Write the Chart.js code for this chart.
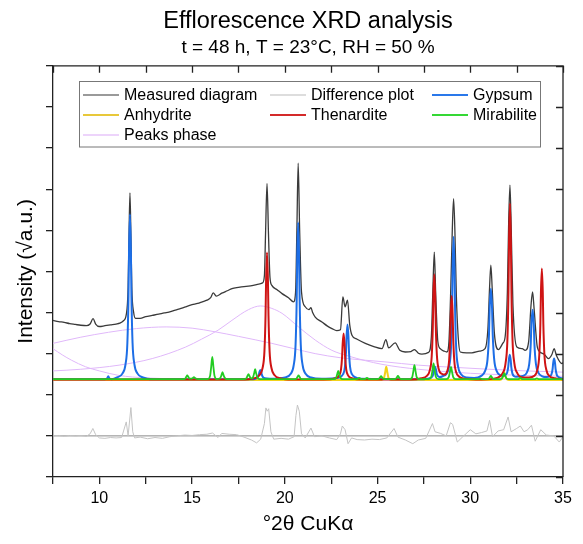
<!DOCTYPE html>
<html>
<head>
<meta charset="utf-8">
<title>Efflorescence XRD analysis</title>
<script src="https://cdn.jsdelivr.net/npm/chart.js@4.4.1/dist/chart.umd.min.js"></script>
<style>
  html, body { margin: 0; padding: 0; background: #fff; overflow: hidden; }
  canvas { display: block; }
</style>
</head>
<body>
<canvas id="xrdChart" width="583" height="544"></canvas>
<script>
// axis ticks (labels only every 5 degrees, y axis has no labels)
const xTickValues = [7.5, 10, 12.5, 15, 17.5, 20, 22.5, 25, 27.5, 30, 32.5, 35];
const xTickLabels = ['', '10', '', '15', '', '20', '', '25', '', '30', '', '35'];
const yTickValues = [-1, 0, 1, 2, 3, 4, 5, 6, 7, 8, 9];

// measured pattern (sqrt intensity, arbitrary offset)
const measured = [
  [7.5,2.81],[7.8,2.78],[8.1,2.76],[8.4,2.73],[8.7,2.71],[9.0,2.69],[9.3,2.68],[9.5,2.72],[9.66,2.85],[9.8,2.72],
  [10.0,2.66],[10.3,2.68],[10.6,2.70],[10.9,2.72],[11.1,2.74],[11.3,2.80],[11.45,2.95],[11.55,3.6],[11.6,4.9],[11.65,5.91],
  [11.7,4.9],[11.75,3.6],[11.85,3.0],[11.95,2.86],[12.2,2.86],[12.5,2.90],[12.85,2.93],[13.2,2.96],[13.5,2.99],[13.75,3.01],
  [14.1,3.06],[14.4,3.10],[14.65,3.14],[15.0,3.19],[15.3,3.22],[15.55,3.26],[15.8,3.30],[16.0,3.36],[16.14,3.48],[16.3,3.40],
  [16.6,3.47],[16.9,3.53],[17.15,3.58],[17.5,3.61],[17.8,3.63],[18.04,3.64],[18.3,3.66],[18.6,3.69],[18.8,3.72],[18.9,3.9],
  [18.96,4.9],[19.04,6.14],[19.12,4.9],[19.2,3.85],[19.3,3.66],[19.6,3.55],[19.85,3.46],[20.2,3.36],[20.47,3.26],[20.58,3.5],
  [20.65,5.0],[20.72,6.63],[20.8,5.0],[20.9,3.5],[21.1,3.14],[21.3,3.07],[21.41,3.12],[21.5,3.0],[21.64,2.89],[22.0,2.77],
  [22.3,2.67],[22.54,2.61],[22.8,2.56],[23.0,2.58],[23.13,3.38],[23.25,3.14],[23.38,3.30],[23.5,2.7],[23.62,2.45],[23.9,2.35],
  [24.34,2.25],[24.8,2.17],[25.24,2.12],[25.45,2.34],[25.6,2.14],[25.95,2.26],[26.2,2.08],[26.49,2.04],[26.8,2.05],[26.99,2.10],
  [27.2,2.01],[27.39,1.99],[27.75,2.03],[27.9,2.4],[27.98,3.5],[28.06,4.47],[28.14,3.4],[28.25,2.3],[28.38,2.12],[28.6,2.06],
  [28.74,2.04],[28.85,2.3],[28.95,3.6],[29.03,5.0],[29.1,5.77],[29.17,5.0],[29.25,3.4],[29.35,2.4],[29.46,2.04],[29.8,2.02],
  [30.09,2.02],[30.5,2.06],[30.8,2.12],[30.95,2.6],[31.04,3.6],[31.11,4.15],[31.18,3.6],[31.3,2.5],[31.52,2.10],[31.75,2.25],
  [31.88,2.41],[32.0,3.5],[32.07,5.2],[32.14,6.10],[32.21,5.0],[32.3,3.2],[32.51,2.16],[32.8,2.12],[32.96,2.08],[33.15,2.3],
  [33.28,3.2],[33.36,3.50],[33.44,3.1],[33.6,2.2],[33.68,2.08],[34.0,1.98],[34.22,1.88],[34.4,1.98],[34.52,2.12],[34.65,1.95],
  [34.94,1.76],[35.0,1.78]
];

// measured minus calculated, around 0
const difference = [
  [7.5,0.0],[7.8,0.01],[8.1,-0.01],[8.4,0.01],[8.7,0.0],[9.0,0.01],[9.3,-0.01],[9.5,0.05],[9.65,0.18],[9.8,0.03],
  [10.0,-0.05],[10.3,-0.06],[10.6,-0.04],[10.9,-0.05],[11.2,-0.04],[11.45,0.34],[11.55,0.0],[11.7,0.69],[11.8,0.1],[11.9,-0.05],
  [12.2,-0.03],[12.6,-0.07],[13.0,-0.04],[13.4,-0.06],[13.8,-0.02],[14.2,0.0],[14.6,0.02],[15.0,0.01],[15.4,0.03],[15.8,0.04],
  [16.1,0.07],[16.4,-0.04],[16.6,0.06],[17.0,0.04],[17.4,0.03],[17.8,-0.03],[18.2,-0.10],[18.48,-0.17],[18.7,-0.08],[18.9,0.3],
  [18.98,0.68],[19.05,0.6],[19.13,0.66],[19.25,0.1],[19.4,-0.08],[19.8,-0.06],[20.2,-0.08],[20.5,-0.02],[20.6,0.5],[20.68,0.75],
  [20.78,0.6],[20.9,0.05],[21.1,-0.05],[21.41,0.19],[21.6,-0.02],[22.0,0.0],[22.4,-0.05],[22.8,-0.09],[23.0,0.05],[23.1,0.24],
  [23.25,0.15],[23.41,-0.19],[23.6,-0.05],[23.9,-0.09],[24.3,-0.10],[24.7,-0.08],[25.1,-0.09],[25.5,-0.05],[25.89,0.18],[26.1,-0.03],
  [26.5,-0.10],[26.9,-0.19],[27.2,-0.10],[27.6,-0.06],[27.96,0.30],[28.1,0.1],[28.4,0.06],[28.7,0.0],[28.93,0.32],[29.05,0.28],
  [29.3,-0.15],[29.6,-0.02],[30.0,0.15],[30.3,0.05],[30.6,0.08],[30.9,0.12],[31.04,0.38],[31.2,-0.02],[31.5,0.12],[31.8,0.15],
  [32.04,0.46],[32.2,0.1],[32.5,0.18],[32.7,0.24],[32.9,0.1],[33.1,0.15],[33.3,0.26],[33.5,-0.13],[33.8,0.15],[34.1,0.02],
  [34.5,0.0],[34.8,-0.15],[35.0,-0.02]
];
const zeroLine = [[7.5,0],[35,0]];

// calculated phase patterns
const gypsum = [
  [7.5,1.38],[10.3,1.38],[10.42,1.40],[10.48,1.45],[10.54,1.40],[10.66,1.38],
  [10.95,1.42],[11.25,1.52],[11.41,1.74],[11.51,2.26],[11.57,3.39],[11.60,4.51],[11.65,5.39],[11.70,4.51],[11.73,3.39],[11.79,2.26],
  [11.89,1.74],[12.05,1.52],[12.35,1.42],[12.9,1.38],
  [18.3,1.38],[18.46,1.40],[18.54,1.43],[18.6,1.49],[18.63,1.55],[18.68,1.60],[18.73,1.55],[18.76,1.49],[18.82,1.43],[18.92,1.40],[19.2,1.39],
  [20.02,1.42],[20.32,1.51],[20.48,1.72],[20.58,2.22],[20.64,3.29],[20.67,4.35],[20.72,5.19],[20.77,4.35],[20.80,3.29],[20.86,2.22],
  [20.96,1.72],[21.12,1.51],[21.42,1.42],[22.0,1.39],
  [22.68,1.40],[22.98,1.43],[23.14,1.50],[23.24,1.67],[23.30,2.05],[23.33,2.42],[23.38,2.71],[23.43,2.42],[23.46,2.05],[23.52,1.67],
  [23.62,1.50],[23.78,1.43],[24.08,1.39],[27.5,1.38],
  [27.70,1.39],[27.86,1.41],[27.96,1.45],[28.02,1.53],[28.05,1.61],[28.10,1.68],[28.15,1.61],[28.18,1.53],[28.24,1.46],[28.34,1.43],
  [28.55,1.46],[28.70,1.50],[28.86,1.69],[28.96,2.14],[29.02,3.11],[29.05,4.08],[29.10,4.84],[29.15,4.08],[29.18,3.11],[29.24,2.14],
  [29.34,1.69],[29.50,1.50],[29.80,1.42],
  [30.21,1.41],[30.59,1.46],[30.80,1.58],[30.93,1.86],[31.01,2.48],[31.045,3.10],[31.11,3.58],[31.175,3.10],[31.21,2.48],[31.29,1.86],
  [31.42,1.58],[31.63,1.47],[31.80,1.46],[31.92,1.49],[31.99,1.54],[32.05,1.69],[32.08,1.85],[32.13,1.97],[32.18,1.84],[32.21,1.68],
  [32.27,1.52],[32.37,1.45],
  [32.46,1.44],[32.84,1.46],[33.05,1.54],[33.18,1.75],[33.26,2.23],[33.295,2.70],[33.36,3.07],[33.425,2.70],[33.46,2.23],[33.54,1.75],
  [33.67,1.54],[33.88,1.45],[34.12,1.43],[34.28,1.45],[34.38,1.50],[34.44,1.63],[34.47,1.77],[34.52,1.88],[34.57,1.77],[34.60,1.63],
  [34.66,1.49],[34.76,1.43],[34.92,1.40],[35.0,1.39]
];

const anhydrite = [
  [7.5,1.36],[25.22,1.36],[25.35,1.41],[25.41,1.54],[25.47,1.68],[25.53,1.54],[25.59,1.41],[25.72,1.36],
  [31.58,1.36],[31.71,1.39],[31.77,1.46],[31.83,1.55],[31.89,1.46],[31.95,1.39],[32.08,1.36],[35.0,1.36]
];

const thenardite = [
  [7.5,1.37],[17.6,1.37],[18.34,1.40],[18.64,1.48],[18.80,1.65],[18.90,2.05],[18.96,2.92],[18.99,3.78],[19.04,4.46],[19.09,3.78],
  [19.12,2.92],[19.18,2.05],[19.28,1.65],[19.44,1.48],[19.74,1.40],[20.4,1.37],
  [22.47,1.38],[22.77,1.41],[22.93,1.47],[23.03,1.62],[23.09,1.93],[23.12,2.24],[23.17,2.49],[23.22,2.24],[23.25,1.93],[23.31,1.62],
  [23.41,1.47],[23.57,1.41],[23.87,1.38],[26.8,1.37],
  [27.36,1.40],[27.66,1.46],[27.82,1.60],[27.92,1.93],[27.98,2.65],[28.01,3.37],[28.06,3.93],[28.11,3.37],[28.14,2.67],[28.20,1.96],
  [28.30,1.62],[28.46,1.51],[28.60,1.49],[28.76,1.58],[28.86,1.84],[28.92,2.41],[28.95,2.96],[29.00,3.40],[29.05,2.95],[29.08,2.39],
  [29.14,1.82],[29.24,1.55],[29.40,1.44],[29.70,1.39],[30.6,1.37],
  [31.44,1.41],[31.74,1.52],[31.90,1.76],[32.00,2.31],[32.06,3.51],[32.09,4.71],[32.14,5.65],[32.19,4.71],[32.22,3.51],[32.28,2.31],
  [32.38,1.76],[32.54,1.52],[32.84,1.42],[33.16,1.42],[33.46,1.46],[33.62,1.61],[33.72,1.96],[33.78,2.72],[33.81,3.48],[33.86,4.07],
  [33.91,3.48],[33.94,2.72],[34.00,1.96],[34.10,1.61],[34.26,1.46],[34.56,1.40],[35.0,1.38]
];

const mirabilite = [
  [7.5,1.38],[14.49,1.38],[14.62,1.39],[14.68,1.43],[14.74,1.47],[14.80,1.43],[14.86,1.39],[14.98,1.39],[15.04,1.41],[15.10,1.43],
  [15.16,1.41],[15.22,1.39],[15.35,1.38],
  [15.84,1.38],[15.97,1.46],[16.03,1.68],[16.09,1.92],[16.15,1.68],[16.21,1.46],[16.34,1.38],
  [16.45,1.39],[16.52,1.41],[16.58,1.47],[16.64,1.55],[16.70,1.47],[16.76,1.41],[16.89,1.38],
  [17.79,1.38],[17.92,1.40],[17.98,1.45],[18.04,1.50],[18.10,1.45],[18.16,1.40],[18.22,1.40],[18.28,1.42],[18.34,1.51],[18.40,1.62],
  [18.46,1.51],[18.52,1.42],[18.65,1.38],
  [20.49,1.38],[20.62,1.39],[20.68,1.43],[20.74,1.47],[20.80,1.43],[20.86,1.39],[20.99,1.38],
  [22.63,1.38],[22.76,1.41],[22.82,1.49],[22.88,1.58],[22.94,1.49],[23.00,1.41],[23.13,1.38],
  [23.9,1.38],[24.01,1.41],[24.12,1.38],[24.32,1.38],[24.43,1.41],[24.54,1.38],
  [24.94,1.38],[25.07,1.39],[25.13,1.42],[25.19,1.45],[25.25,1.42],[25.31,1.39],[25.44,1.38],
  [25.85,1.38],[25.98,1.39],[26.04,1.42],[26.10,1.46],[26.16,1.42],[26.22,1.39],[26.35,1.38],
  [26.74,1.38],[26.87,1.43],[26.93,1.57],[26.99,1.72],[27.05,1.57],[27.11,1.43],[27.24,1.38],
  [27.77,1.38],[27.90,1.44],[27.96,1.59],[28.02,1.76],[28.08,1.59],[28.14,1.44],[28.27,1.38],
  [28.71,1.38],[28.84,1.43],[28.90,1.55],[28.96,1.68],[29.02,1.55],[29.08,1.43],[29.21,1.38],
  [30.43,1.38],[30.54,1.40],[30.65,1.38],
  [30.86,1.38],[30.99,1.39],[31.05,1.42],[31.11,1.46],[31.17,1.42],[31.23,1.39],[31.36,1.38],
  [31.58,1.38],[31.71,1.40],[31.77,1.46],[31.83,1.52],[31.89,1.46],[31.95,1.40],[32.08,1.38],
  [32.59,1.38],[32.70,1.41],[32.81,1.38],[33.48,1.38],[33.59,1.40],[33.70,1.38],[35.0,1.38]
];

// broad amorphous humps ("peaks phase")
const peaksPhaseA = [
  [7.5,2.25],[9.0,2.40],[10.5,2.52],[12.0,2.61],[13.6,2.65],[15.0,2.62],[16.25,2.53],[17.5,2.42],[19.3,2.25],[20.5,2.12],
  [21.64,2.00],[23.0,1.90],[24.34,1.84],[25.4,1.80],[27.2,1.72],[29.0,1.67],[31.0,1.62],[33.0,1.58],[35.0,1.55]
];
const peaksPhaseB = [
  [7.5,2.12],[8.0,1.97],[8.5,1.84],[9.26,1.68],[10.0,1.58],[11.06,1.47],[12.5,1.41],[14.0,1.39],[15.5,1.38],[35.0,1.38]
];
const peaksPhaseC = [
  [7.5,1.58],[9.0,1.62],[11.06,1.72],[12.85,1.88],[14.65,2.16],[15.5,2.35],[16.4,2.57],[17.15,2.81],[18.04,3.07],[18.68,3.16],
  [19.3,3.10],[19.85,2.98],[20.74,2.65],[21.64,2.33],[22.54,2.08],[23.44,1.94],[25.24,1.74],[27.2,1.62],[29.0,1.55],[31.0,1.50],
  [33.0,1.47],[35.0,1.45]
];

const FONT = "'Liberation Sans', Arial, sans-serif";
const toXY = arr => arr.map(p => ({ x: p[0], y: p[1] }));

function lineSet(label, pts, color, width, order, smooth) {
  return {
    label: label,
    data: toXY(pts),
    showLine: true,
    borderColor: color,
    backgroundColor: color,
    borderWidth: width,
    pointRadius: 0,
    fill: false,
    order: order,
    cubicInterpolationMode: smooth ? 'monotone' : 'default',
    tension: 0
  };
}

// legend rows like the original (fixed columns)
const legendItems = [
  { text: 'Measured diagram', color: '#9a9a9a', col: 0, row: 0 },
  { text: 'Difference plot', color: '#dddddd', col: 1, row: 0 },
  { text: 'Gypsum', color: '#2a78ea', col: 2, row: 0 },
  { text: 'Anhydrite', color: '#e8c83a', col: 0, row: 1 },
  { text: 'Thenardite', color: '#d42a2a', col: 1, row: 1 },
  { text: 'Mirabilite', color: '#35d835', col: 2, row: 1 },
  { text: 'Peaks phase', color: '#edd4fb', col: 0, row: 2 }
];

const framePlugin = {
  id: 'frameAndLegend',
  afterDraw(chart) {
    const { ctx, chartArea: a } = chart;
    const x = chart.scales.x, y = chart.scales.y;
    ctx.save();
    // top and right border with inward ticks
    ctx.strokeStyle = '#222';
    ctx.lineWidth = 1.3;
    ctx.beginPath();
    ctx.moveTo(a.left, a.top);
    ctx.lineTo(a.right, a.top);
    ctx.lineTo(a.right, a.bottom);
    xTickValues.forEach(v => {
      const px = Math.round(x.getPixelForValue(v)) + 0.5;
      ctx.moveTo(px, a.top);
      ctx.lineTo(px, a.top + 7);
    });
    yTickValues.forEach(v => {
      const py = Math.round(y.getPixelForValue(v)) + 0.5;
      ctx.moveTo(a.right, py);
      ctx.lineTo(a.right - 7, py);
    });
    ctx.stroke();

    // legend box
    const bx = 79.5, by = 81.5, bw = 461, bh = 65.5;
    ctx.fillStyle = '#fff';
    ctx.fillRect(bx, by, bw, bh);
    ctx.strokeStyle = '#777';
    ctx.lineWidth = 1;
    ctx.strokeRect(bx, by, bw, bh);
    const colX = [83, 270, 432];
    const rowY = [95, 115, 135];
    ctx.font = '16px ' + FONT;
    ctx.textBaseline = 'middle';
    ctx.textAlign = 'left';
    legendItems.forEach(it => {
      const lx = colX[it.col], ly = rowY[it.row];
      ctx.strokeStyle = it.color;
      ctx.lineWidth = 2;
      ctx.beginPath();
      ctx.moveTo(lx, ly);
      ctx.lineTo(lx + 36, ly);
      ctx.stroke();
      ctx.fillStyle = '#000';
      ctx.fillText(it.text, lx + 41, ly + 1);
    });
    ctx.restore();
  }
};

const ctx = document.getElementById('xrdChart').getContext('2d');

new Chart(ctx, {
  type: 'scatter',
  data: {
    datasets: [
      lineSet('Peaks phase', peaksPhaseA, '#e0b8fa', 1, 20, true),
      lineSet('Peaks phase 2', peaksPhaseB, '#e0b8fa', 1, 20, true),
      lineSet('Peaks phase 3', peaksPhaseC, '#e0b8fa', 1, 20, true),
      lineSet('Measured diagram', measured, '#3a3a3a', 1.3, 15, true),
      lineSet('Difference plot', difference, '#c4c4c4', 1, 15, false),
      lineSet('zero', zeroLine, '#888888', 1, 16, false),
      lineSet('Anhydrite', anhydrite, '#f2d21a', 2, 6, true),
      lineSet('Gypsum', gypsum, '#1d6ee6', 2, 5, true),
      lineSet('Thenardite', thenardite, '#cf1414', 2, 4, true),
      lineSet('Mirabilite', mirabilite, '#22cc22', 1.8, 3, true)
    ]
  },
  options: {
    responsive: false,
    animation: false,
    layout: { padding: { left: 0, right: 20, top: 0, bottom: 0 } },
    plugins: {
      legend: { display: false },
      tooltip: { enabled: false },
      title: {
        display: true,
        fullSize: false,
        text: 'Efflorescence XRD analysis',
        color: '#000',
        font: { family: FONT, size: 23.5, weight: 'normal' },
        padding: { top: 7, bottom: 1 }
      },
      subtitle: {
        display: true,
        fullSize: false,
        text: 't = 48 h, T = 23°C, RH = 50 %',
        color: '#000',
        font: { family: FONT, size: 19, weight: 'normal' },
        padding: { top: 0, bottom: 6.8 }
      }
    },
    scales: {
      x: {
        type: 'linear',
        position: 'bottom',
        min: 7.5,
        max: 35,
        afterBuildTicks: s => { s.ticks = xTickValues.map(v => ({ value: v })); },
        afterFit: s => { s.height = 67; },
        ticks: {
          autoSkip: false,
          maxRotation: 0,
          padding: 5,
          color: '#000',
          font: { family: FONT, size: 16 },
          callback: (v, i) => xTickLabels[i]
        },
        grid: { drawOnChartArea: false, drawTicks: true, tickLength: 7, color: '#222', lineWidth: 1.3 },
        border: { display: true, color: '#222', width: 1.3 },
        title: {
          display: true,
          text: '°2θ CuKα',
          color: '#000',
          font: { family: FONT, size: 21 },
          padding: { top: 0, bottom: 7 }
        }
      },
      y: {
        type: 'linear',
        position: 'left',
        min: -1,
        max: 9,
        afterBuildTicks: s => { s.ticks = yTickValues.map(v => ({ value: v })); },
        afterFit: s => { s.width = 53; },
        ticks: { callback: () => '', padding: 0 },
        grid: { drawOnChartArea: false, drawTicks: true, tickLength: 7, color: '#222', lineWidth: 1.3 },
        border: { display: true, color: '#222', width: 1.3 },
        title: {
          display: true,
          text: 'Intensity (√a.u.)',
          color: '#000',
          font: { family: FONT, size: 21 },
          padding: { top: 14, bottom: 0 }
        }
      }
    }
  },
  plugins: [framePlugin]
});
</script>
</body>
</html>
